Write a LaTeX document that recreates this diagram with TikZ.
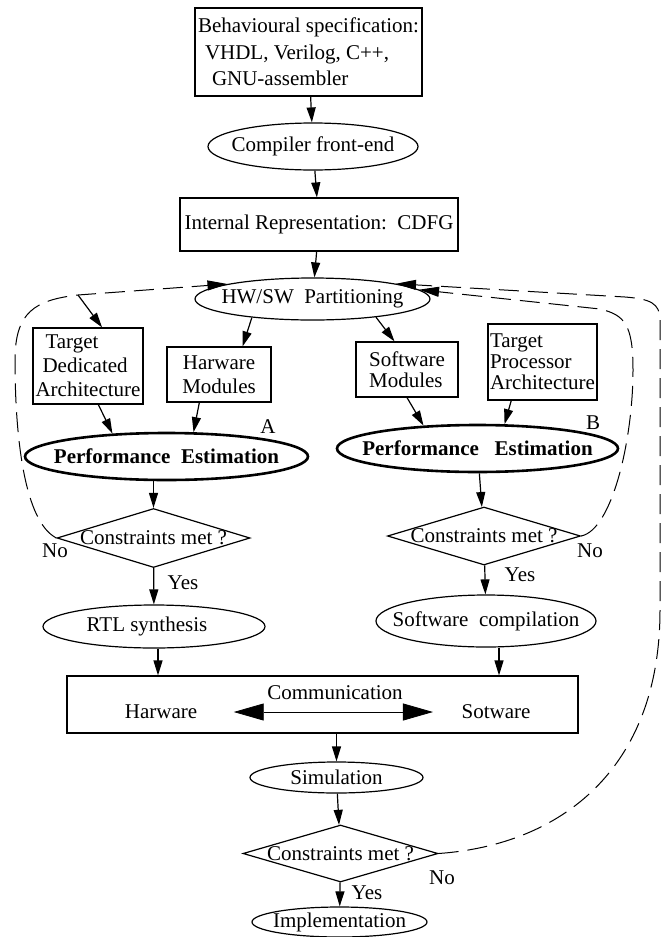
\documentclass[tikz,border=0pt]{standalone}
\usepackage{fontspec}
\setmainfont{Liberation Serif}
\usetikzlibrary{shapes.geometric,arrows.meta}

\tikzset{every picture/.style={line width=1.2pt}}
\tikzset{
  box/.style={draw, rectangle, inner sep=1pt, align=center},
  oval/.style={draw, ellipse, inner sep=0pt},
  bigoval/.style={oval, line width=2.6pt, font=\fontsize{21}{24}\selectfont\bfseries},
  decision/.style={draw, diamond, inner sep=0pt},
  lab/.style={inner sep=0pt},
  arr/.style={-{Triangle[length=15pt,width=9pt]}},
  feedback/.style={line width=1pt, dash pattern=on 20pt off 9pt, -{Triangle[length=20pt,width=10pt]}},
  twoway/.style={line width=0.8pt, {Triangle[length=30pt,width=17pt]}-{Triangle[length=30pt,width=17pt]}}
}
\newcommand{\inbox}[1]{\makebox[0pt]{#1}}

\begin{document}
\begin{tikzpicture}[x=1pt,y=1pt,yscale=-1,xscale=1,font=\fontsize{21}{24}\selectfont]
\useasboundingbox (0,0) rectangle (671,937);

% Text Node
\node[box, minimum width=227pt, minimum height=88pt, align=left] (spec) at (308.5,52) {Behavioural specification:\\[2.5pt]\hspace*{7pt}VHDL, Verilog, C++,\\[2.5pt]\hspace*{14pt}GNU-assembler};
%Shape: Ellipse
\node[oval, minimum width=210pt, minimum height=47pt] (cfe) at (313,146.5) {\inbox{Compiler front-end}};
% Text Node
\node[box, minimum width=278pt, minimum height=53pt] (ir) at (319,224.5) {Internal Representation:\ \ CDFG};
%Shape: Ellipse
\node[oval, minimum width=235pt, minimum height=42pt] (hwsw) at (312.5,299) {\inbox{HW/SW\ \ Partitioning}};

% Text Node
\node[box, minimum width=110pt, minimum height=76pt, align=left] (tda) at (88,366) {\hspace*{10pt}Target\\\hspace*{7pt}Dedicated\\Architecture};
\node[box, minimum width=104pt, minimum height=55pt] (hm) at (219,374.5) {Harware\\Modules};
\node[box, minimum width=102pt, minimum height=55pt, align=left] (sm) at (407,369.5) {Software\\[-3pt]Modules};
\node[box, minimum width=109pt, minimum height=76pt, align=left] (tpa) at (542.5,362) {Target\\[-3pt]Processor\\[-3pt]Architecture};

%Shape: Ellipse
\node[bigoval, minimum width=283pt, minimum height=47pt] (peA) at (166.5,456.5) {\inbox{Performance\ \ Estimation}};
\node[bigoval, minimum width=281pt, minimum height=47pt] (peB) at (477.5,448.5) {\inbox{Performance\ \ \ Estimation}};
\node[lab] (labA) at (268,427) {A};
\node[lab] (labB) at (593,423) {B};

%Shape: Diamond
\node[decision, minimum width=193pt, minimum height=59pt] (d1) at (153.5,538) {\inbox{Constraints met ?}};
\node[decision, minimum width=193pt, minimum height=58pt] (d2) at (484,536) {\inbox{Constraints met ?}};
\node[lab] (no1) at (55,551) {No};
\node[lab] (yes1) at (183,583) {Yes};
\node[lab] (no2) at (590,551) {No};
\node[lab] (yes2) at (520,575) {Yes};

%Shape: Ellipse
\node[oval, minimum width=222pt, minimum height=43pt] (rtl) at (154,626.5) {\inbox{RTL synthesis\hspace{14pt}}};
\node[oval, minimum width=220pt, minimum height=52pt] (swc) at (486,621) {\inbox{Software\ \ compilation}};

% Text Node
\node[box, minimum width=511pt, minimum height=57pt] (comm) at (322.5,704.5) {};
\node[lab] (commlab) at (335,693) {Communication};
\node[lab] (hwlab) at (161,712) {Harware};
\node[lab] (swlab) at (496,712) {Sotware};

%Shape: Ellipse
\node[oval, minimum width=173pt, minimum height=31pt] (sim) at (336.5,777.5) {\inbox{Simulation}};
%Shape: Diamond
\node[decision, minimum width=195pt, minimum height=57pt] (d3) at (340.5,853.5) {\inbox{Constraints met ?}};
\node[lab] (no3) at (442,878) {No};
\node[lab] (yes3) at (367,893) {Yes};
%Shape: Ellipse
\node[oval, minimum width=175pt, minimum height=30pt] (impl) at (339.5,922) {\inbox{Implementation}};

%Straight Lines
\draw[arr] (spec) -- (cfe);
\draw[arr] (cfe) -- (ir);
\draw[arr] (ir) -- (hwsw);
\draw[arr] (hwsw.197) -- (hm.50);
\draw[arr] (hwsw.-16) -- (sm.114);
\draw[arr] (tda.-75) -- (peA.157);
\draw[arr] (hm.-125) -- (peA.42);
\draw[arr] (sm.south) -- (peB.157);
\draw[arr] (tpa.-129) -- (peB.42);
\draw[arr] (peA.south -| d1.north) -- (d1.north);
\draw[arr] (peB) -- (d2);
\draw[arr] (d1) -- (rtl);
\draw[arr] (d2) -- (swc);
\draw[arr] ([xshift=4pt]rtl.south) -- ([xshift=4pt]rtl.south |- comm.north);
\draw[arr] ([xshift=13pt]swc.south) -- ([xshift=13pt]swc.south |- comm.north);
\draw[twoway, shorten <=36pt, shorten >=28pt] (hwlab) -- (swlab);
\draw[arr] (sim.north |- comm.south) -- (sim);
\draw[arr] (sim) -- (d3);
\draw[arr] (d3) -- (impl);

%Curve Lines
\coordinate (tap) at (78,295);
\draw[feedback] (d1.west) .. controls (25,522) and (15,440) .. (15,360) .. controls (15,312) and (35,300) .. (tap) -- (hwsw.170);
\draw[arr] (tap) -- (tda.70);
%Curve Lines
\draw[feedback] (d2.east) .. controls (612,530) and (633,440) .. (633,370) .. controls (633,325) and (625,315) .. (600,309) -- (hwsw.5);
%Curve Lines
\draw[feedback] (d3.east) .. controls (560,845) and (660,770) .. (660,610) -- (660,320) .. controls (660,303) and (650,299) .. (625,297) -- (hwsw.north east);

\end{tikzpicture}
\end{document}
